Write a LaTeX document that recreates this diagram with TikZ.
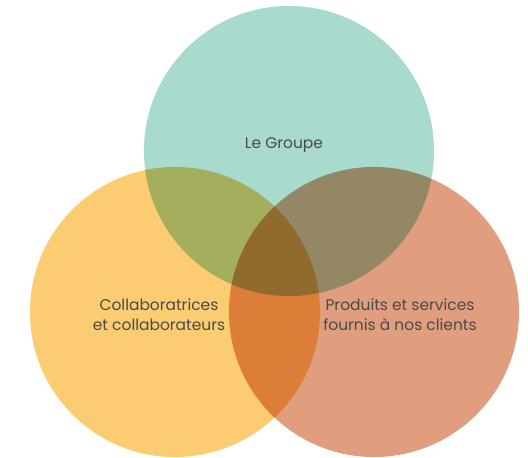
\documentclass[tikz,border=0pt]{standalone}
\usepackage{fontspec}
\setmainfont{Poppins}
\usepackage{xcolor}
\usetikzlibrary{positioning}

\definecolor{groupecol}{HTML}{A8DACE}
\definecolor{collabcol}{HTML}{FBCC72}
\definecolor{produitcol}{HTML}{E09E7E}
\definecolor{textcol}{HTML}{4A4A4A}

\tikzset{
  ensemble/.style={circle, inner sep=0pt, minimum size=7.25cm},
  etiquette/.style={text=textcol, font=\fontsize{11}{14.4}\selectfont, align=center}
}

\begin{document}
\begin{tikzpicture}[x=0.025cm, y=-0.025cm]
    \useasboundingbox (0,0) rectangle (528,458);

    % Circles (multiplied where they overlap)
    \begin{scope}[blend group=multiply]
        \node[ensemble, fill=groupecol] (groupe) at (289,151) {};
        \node[ensemble, fill=collabcol] (collab) at (175,312) {};
        \node[ensemble, fill=produitcol] (produits) at (374,312) {};
    \end{scope}

    % Labels
    \node[etiquette] (lgroupe) at (284,145) {Le Groupe};
    \node[etiquette] (lcollab) at (159,315) {Collaboratrices\\et collaborateurs};
    \node[etiquette] (lproduits) at (400,315) {Produits et services\\fournis à nos clients};
\end{tikzpicture}
\end{document}
